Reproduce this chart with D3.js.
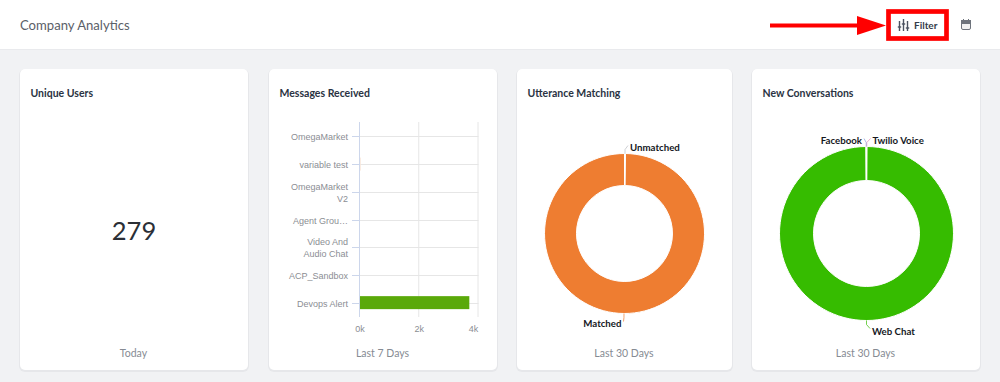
<!DOCTYPE html>
<meta charset="utf-8">
<style>
  html, body { margin: 0; padding: 0; background: #f1f2f4; overflow: hidden; }
  text { font-family: Lato, sans-serif; }
  .axis text { font-family: "Liberation Sans", sans-serif; font-size: 9px; fill: #8b8e94; }
  .card-title { font-size: 10.5px; font-weight: 700; fill: #2a3342; }
  .card-foot { font-size: 10.5px; fill: #868b93; text-anchor: middle; }
  .slice-label { font-size: 9.7px; font-weight: 700; fill: #15181e; }
</style>
<script src="https://d3js.org/d3.v7.min.js"></script>

<svg id="chart" width="1000" height="382"></svg>

<script>
    // Messages Received
    var botNames = ["OmegaMarket", "variable test", "OmegaMarket\nV2", "Agent Grou…", "Video And\nAudio Chat", "ACP_Sandbox", "Devops Alert"];
    var botMessages = [0, 25, 0, 0, 0, 0, 3690];
    var messageTicks = [0, 2000, 4000];

    // Utterance Matching
    var utteranceNames = ["Unmatched", "Matched"];
    var utteranceValues = [2, 998];
    var utteranceColors = ["#b9bcc2", "#ee7d31"];

    // New Conversations
    var conversationNames = ["Twilio Voice", "Web Chat", "Facebook"];
    var conversationValues = [1, 998, 1];
    var conversationColors = ["#e58ab8", "#36bc00", "#8f9bd8"];

    var svg = d3.select("#chart");

    // Header bar
    svg.append("rect").attr("width", 1000).attr("height", 49).attr("fill", "#fff");
    svg.append("line").attr("x1", 0).attr("x2", 1000).attr("y1", 49.5).attr("y2", 49.5).attr("stroke", "#e9eaed");
    svg.append("text").attr("x", 20).attr("y", 30).attr("font-size", 13.1).attr("fill", "#5b6068").text("Company Analytics");

    // Cards
    var cards = [
      {x: 20, w: 228, title: "Unique Users", foot: "Today"},
      {x: 269, w: 228, title: "Messages Received", foot: "Last 7 Days"},
      {x: 517, w: 215, title: "Utterance Matching", foot: "Last 30 Days"},
      {x: 752, w: 228, title: "New Conversations", foot: "Last 30 Days"}
    ];
    cards.forEach(function(c){
      svg.append("rect").attr("x", c.x - 1).attr("y", 69).attr("width", c.w + 2).attr("height", 303)
         .attr("rx", 6).attr("fill", "#e6e7ea");
      svg.append("rect").attr("x", c.x).attr("y", 69).attr("width", c.w).attr("height", 301)
         .attr("rx", 5).attr("fill", "#fff");
      svg.append("text").attr("class", "card-title").attr("x", c.x + 10.5).attr("y", 96.5).text(c.title);
      svg.append("text").attr("class", "card-foot").attr("x", c.x + c.w / 2 - 0.5).attr("y", 357).text(c.foot);
    });

    svg.append("text").attr("x", 134).attr("y", 240).attr("text-anchor", "middle")
       .attr("font-size", 25.5).attr("fill", "#2b2f36").text("279");

    // Bar chart
    var x = d3.scaleLinear().domain([0, 4000]).range([360, 478.5]);
    var y = d3.scaleBand().domain(botNames).range([122.5, 316.5]);

    svg.append("g").selectAll("line").data(messageTicks).enter().append("line")
       .attr("x1", function(d){ return x(d) - 0.5 }).attr("x2", function(d){ return x(d) - 0.5 })
       .attr("y1", 122).attr("y2", 317)
       .attr("stroke", function(d){ return d == 0 ? "#ccd6eb" : "#e6e6e6" });

    svg.append("g").selectAll("line").data(botNames).enter().append("line")
       .attr("x1", 352).attr("x2", 478.5)
       .attr("y1", function(d){ return Math.round(y(d) + y.bandwidth() / 2) + 0.5 })
       .attr("y2", function(d){ return Math.round(y(d) + y.bandwidth() / 2) + 0.5 })
       .attr("stroke", "#e6e6e6");
    svg.append("g").selectAll("line").data(botNames).enter().append("line")
       .attr("x1", 352).attr("x2", 360)
       .attr("y1", function(d){ return Math.round(y(d) + y.bandwidth() / 2) + 0.5 })
       .attr("y2", function(d){ return Math.round(y(d) + y.bandwidth() / 2) + 0.5 })
       .attr("stroke", "#ccd6eb");

    svg.append("g").selectAll("rect").data(botNames).enter().append("rect")
       .attr("x", x(0))
       .attr("y", function(d){ return y(d) + y.bandwidth() / 2 - 6.5 })
       .attr("width", function(d, i){ return x(botMessages[i]) - x(0) })
       .attr("height", 13)
       .attr("fill", function(d, i){ return i == 6 ? "#5aa90a" : "#f8e6d8" });

    var axisY = svg.append("g").attr("class", "axis");
    botNames.forEach(function(name){
      var lines = name.split("\n");
      var mid = y(name) + y.bandwidth() / 2;
      lines.forEach(function(line, i){
        axisY.append("text").attr("x", 348).attr("text-anchor", "end")
             .attr("y", mid + 4 + (i - (lines.length - 1) / 2) * 11.5).text(line);
      });
    });
    svg.append("g").attr("class", "axis").selectAll("text").data(messageTicks).enter().append("text")
       .attr("x", function(d, i){ return i == 2 ? x(d) - 5 : x(d) })
       .attr("y", 332)
       .attr("text-anchor", "middle")
       .text(function(d){ return (d / 1000) + "k" });

    // Donuts
    function donut(cx, cy, outer, inner, names, values, colors, labels) {
      var g = svg.append("g").attr("transform", "translate(" + cx + "," + cy + ")");
      var pie = d3.pie().sort(null)(values);
      var arc = d3.arc().innerRadius(inner).outerRadius(outer);
      g.selectAll("path").data(pie).enter().append("path")
       .attr("d", arc)
       .attr("fill", function(d, i){ return colors[i] })
       .attr("stroke", "#fff").attr("stroke-width", 1);

      pie.forEach(function(d, i){
        var a = (d.startAngle + d.endAngle) / 2;
        var sx = Math.sin(a) * outer, sy = -Math.cos(a) * outer;
        var mx = Math.sin(a) * (outer + 4), my = -Math.cos(a) * (outer + 4);
        var lab = labels[i];
        g.append("path")
         .attr("d", d3.line()([[sx, sy], [mx, my], [lab.dx + (lab.anchor == "end" ? 2 : -2), my + (sy < 0 ? -4 : 4)]]))
         .attr("fill", "none").attr("stroke", colors[i]).attr("stroke-width", 1).attr("opacity", 0.7);
        g.append("text").attr("class", "slice-label")
         .attr("x", lab.dx).attr("y", my + (sy < 0 ? 1 : 10))
         .attr("text-anchor", lab.anchor).text(names[i]);
      });
    }

    donut(624.5, 233.5, 80, 48, utteranceNames, utteranceValues, utteranceColors,
      [{dx: 5.5, anchor: "start"}, {dx: -3, anchor: "end"}]);
    donut(866.5, 233.5, 87, 53, conversationNames, conversationValues, conversationColors,
      [{dx: 6, anchor: "start"}, {dx: 5.5, anchor: "start"}, {dx: -4.5, anchor: "end"}]);

    // Filter button
    var fg = svg.append("g").attr("stroke", "#4b5260").attr("stroke-width", 1.4);
    [[899.5, 22, 31, 27], [903.5, 20, 31, 24], [907.5, 22, 31, 28]].forEach(function(s){
      fg.append("line").attr("x1", s[0]).attr("x2", s[0]).attr("y1", s[1] - 1).attr("y2", s[2]);
      fg.append("line").attr("x1", s[0] - 1.7).attr("x2", s[0] + 1.7).attr("y1", s[3]).attr("y2", s[3]);
    });
    svg.append("text").attr("x", 914).attr("y", 28.5).attr("font-size", 10).attr("font-weight", 700)
       .attr("fill", "#343b4a").text("Filter");

    // Calendar icon
    var cal = svg.append("g").attr("fill", "none").attr("stroke", "#6e737c");
    cal.append("rect").attr("x", 961.5).attr("y", 20.5).attr("width", 9).attr("height", 9).attr("rx", 1.5).attr("fill", "#f1f1f2");
    cal.append("rect").attr("x", 961.5).attr("y", 20.5).attr("width", 9).attr("height", 3).attr("fill", "#6e737c");
    cal.append("line").attr("x1", 963.5).attr("x2", 963.5).attr("y1", 19).attr("y2", 21);
    cal.append("line").attr("x1", 968.5).attr("x2", 968.5).attr("y1", 19).attr("y2", 21);

    // Red annotation box and arrow
    svg.append("rect").attr("x", 888.5).attr("y", 11.5).attr("width", 58).attr("height", 27)
       .attr("fill", "none").attr("stroke", "#f00").attr("stroke-width", 4.7);
    svg.append("line").attr("x1", 770).attr("x2", 860).attr("y1", 25.5).attr("y2", 25.5)
       .attr("stroke", "#f00").attr("stroke-width", 4);
    svg.append("path").attr("d", d3.line()([[857, 16], [886, 25.5], [857, 35]])).attr("fill", "#f00");
</script>
